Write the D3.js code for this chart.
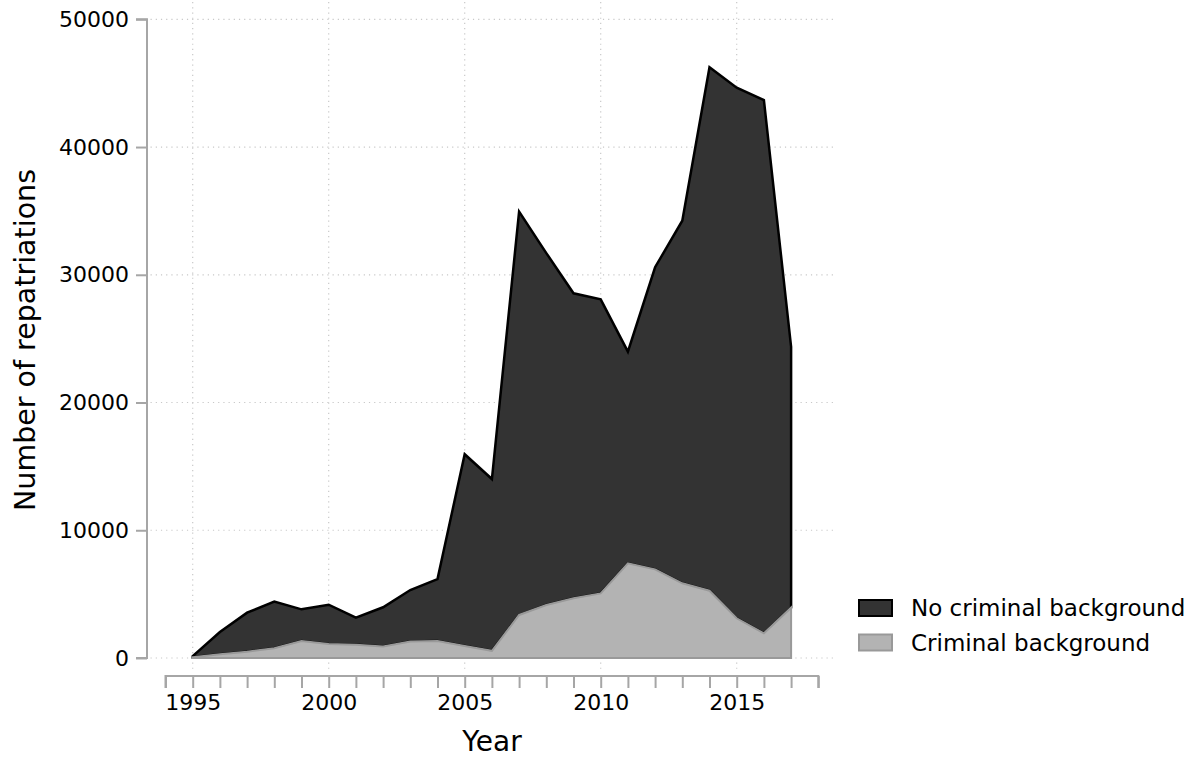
<!DOCTYPE html>
<html>
<head>
<meta charset="utf-8">
<script src="https://cdn.jsdelivr.net/npm/d3@7"></script>
<style>
  html, body { margin: 0; padding: 0; background: #fff; }
  svg { display: block; font-family: "DejaVu Sans", sans-serif; }
</style>
</head>
<body>
<svg id="chart" width="1195" height="757"></svg>
<script>
// Repatriations per year, split by criminal background
const years = [1995, 1996, 1997, 1998, 1999, 2000, 2001, 2002, 2003, 2004, 2005, 2006,
               2007, 2008, 2009, 2010, 2011, 2012, 2013, 2014, 2015, 2016, 2017];
const criminal = [60, 290, 490, 760, 1330, 1100, 1040, 910, 1300, 1330, 940, 560,
                  3370, 4150, 4670, 5060, 7410, 6940, 5850, 5270, 3110, 1930, 3940];
const noCriminal = [90, 1740, 3060, 3650, 2480, 3070, 2120, 3060, 4020, 4850, 15010, 13450,
                    31570, 27550, 23880, 23020, 16570, 23650, 28380, 40970, 41540, 41750, 20430];
const seriesNames = ["Criminal background", "No criminal background"];
const yTicks = [0, 10000, 20000, 30000, 40000, 50000];
const xLabelTicks = [1995, 2000, 2005, 2010, 2015];
const xAllTicks = d3.range(1994, 2019);

const svg = d3.select("#chart");

const x = d3.scaleLinear().domain([1994, 2018]).range([165.5, 818.3]);
const y = d3.scaleLinear().domain([0, 50000]).range([658, 19.3]);

const table = years.map((yr, i) => ({ year: yr, crim: criminal[i], nocrim: noCriminal[i] }));
const stacked = d3.stack().keys(["crim", "nocrim"])(table);

// dotted grid
const grid = svg.append("g").attr("stroke", "#c8c8c8").attr("stroke-width", 1.2)
  .attr("stroke-dasharray", "1.2,4");
grid.selectAll(".hg").data(yTicks).join("line")
  .attr("x1", x(1993.45)).attr("x2", x(2018.55))
  .attr("y1", d => y(d)).attr("y2", d => y(d));
grid.selectAll(".vg").data(xLabelTicks).join("line")
  .attr("x1", d => x(d)).attr("x2", d => x(d))
  .attr("y1", y(51350)).attr("y2", y(-1000));

// stacked areas
const area = d3.area()
  .x(d => x(d.data.year))
  .y0(d => y(d[0]))
  .y1(d => y(d[1]));

const styles = {
  nocrim: { fill: "#333333", stroke: "#000000", width: 2.5 },
  crim: { fill: "#b3b3b3", stroke: "#999999", width: 2 }
};

// upper layer first, lower layer on top so its outline stays visible
[stacked[1], stacked[0]].forEach(layer => {
  const s = styles[layer.key];
  svg.append("path")
    .datum(layer)
    .attr("d", area)
    .attr("fill", s.fill)
    .attr("stroke", s.stroke)
    .attr("stroke-width", s.width)
    .attr("stroke-linejoin", "miter");
});

// y axis
const axisColor = "#a6a6a6";
const yAxis = d3.axisLeft(y).tickValues(yTicks).tickSize(11).tickPadding(7).tickFormat(d3.format("d"));
const gy = svg.append("g").attr("transform", "translate(147,0)").call(yAxis);
gy.select(".domain").attr("stroke", axisColor).attr("stroke-width", 2).attr("d", `M-11,${y(50000)}H0V${y(0)}H-11`);
gy.selectAll(".tick line").attr("stroke", axisColor).attr("stroke-width", 2);
gy.selectAll(".tick text").attr("fill", "#000").style("font-size", "22px").style("font-family", "DejaVu Sans");

// x axis
const xAxis = d3.axisBottom(x).tickValues(xAllTicks).tickSize(12).tickPadding(6)
  .tickFormat(d => xLabelTicks.includes(d) ? String(d) : "");
const gx = svg.append("g").attr("transform", "translate(0,676)").call(xAxis);
gx.select(".domain").attr("stroke", axisColor).attr("stroke-width", 2).attr("d", `M${x(1994)},12V0H${x(2018)}V12`);
gx.selectAll(".tick line").attr("stroke", axisColor).attr("stroke-width", 2);
gx.selectAll(".tick text").attr("fill", "#000").style("font-size", "22px").style("font-family", "DejaVu Sans");

// axis titles
svg.append("text")
  .attr("x", 492).attr("y", 751)
  .attr("text-anchor", "middle")
  .style("font-size", "28px")
  .text("Year");
svg.append("text")
  .attr("transform", "translate(35,340) rotate(-90)")
  .attr("text-anchor", "middle")
  .style("font-size", "28.5px")
  .text("Number of repatriations");

// legend
const legendItems = [
  { name: seriesNames[1], key: "nocrim" },
  { name: seriesNames[0], key: "crim" }
];
const lg = svg.append("g").attr("transform", "translate(859,600)");
legendItems.forEach((it, i) => {
  const s = styles[it.key];
  const row = lg.append("g").attr("transform", `translate(0,${i * 34.5})`);
  row.append("rect").attr("x", 0).attr("y", 0).attr("width", 33).attr("height", 16)
    .attr("fill", s.fill).attr("stroke", s.stroke).attr("stroke-width", 2);
  row.append("text").attr("x", 52).attr("y", 8).attr("dy", "0.36em")
    .style("font-size", "23px").text(it.name);
});
</script>
</body>
</html>
